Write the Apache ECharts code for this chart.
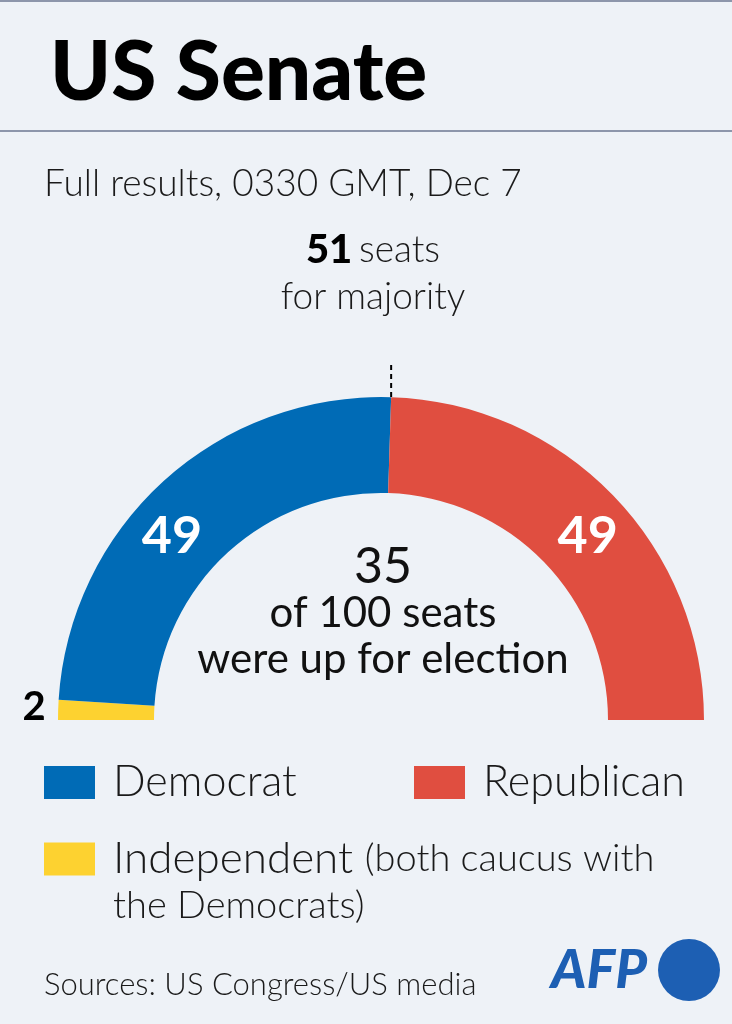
<!DOCTYPE html>
<html>
<head>
<meta charset="utf-8">
<script src="https://cdn.jsdelivr.net/npm/echarts@6/dist/echarts.min.js"></script>
<style>
html,body{margin:0;padding:0;background:#eef2f7;}
#main{width:732px;height:1024px;}
</style>
</head>
<body>
<div id="main"></div>
<script>
// 数据
var parties=['Independent','Democrat','Republican'];
var seats=[2,49,49];
var partyColors=['#fdd230','#006bb6','#e04e40'];
var totalSeats=100;
var majority=51;
var upForElection=35;

var FONT='Lato';
var cx=381,cy=720,rIn=227,rOut=323;//半圆位置

var pieData=[];
for(var i=0;i<parties.length;i++){
	var item={name:parties[i],value:seats[i],itemStyle:{color:partyColors[i]}};
	if(seats[i]<5){
		//小块标签放在外侧,黑色
		item.label={color:'#000',fontSize:40};
	}
	pieData.push(item);
}
//下半圆透明占位
pieData.push({name:'_rest',value:totalSeats,itemStyle:{color:'none'},label:{show:false},emphasis:{disabled:true},tooltip:{show:false}});

//多数线的位置(51席)
var majAngle=Math.PI-Math.PI*majority/totalSeats;
var majX=cx+rOut*Math.cos(majAngle);

function legendCfg(name,left,top,fmt,rich){
	return {
		data:[name],left:left,top:top,padding:0,
		icon:'rect',itemWidth:51,itemHeight:33,
		selectedMode:false,
		formatter:fmt||null,
		textStyle:{fontFamily:FONT,fontWeight:300,fontSize:43,color:'#1a1a1a',lineHeight:42,padding:[0,0,0,13],rich:rich||{}}
	};
}

var myChart=echarts.init(document.getElementById('main'),null,{renderer:'canvas'});
myChart.setOption({
	backgroundColor:'#eef2f7',
	animation:false,
	legend:[
		legendCfg('Democrat',44,761),
		legendCfg('Republican',414,761),
		legendCfg('Independent',44,837,'{a|Independent} {p|(both caucus with}',{
			a:{fontFamily:FONT,fontWeight:300,fontSize:44,color:'#1a1a1a',lineHeight:42},
			p:{fontFamily:FONT,fontWeight:300,fontSize:38,color:'#1a1a1a',lineHeight:42}
		})
	],
	series:[{
		type:'pie',
		center:[cx,cy],
		radius:[rIn,rOut],
		startAngle:180,
		clockwise:true,
		silent:true,
		data:pieData,
		labelLine:{show:false},
		label:{
			show:true,
			position:'inside',
			formatter:'{c}',
			color:'#fff',
			fontFamily:FONT,
			fontWeight:'bold',
			fontSize:52
		},
		labelLayout:function(p){
			if(p.dataIndex==0)return {x:34,y:707,align:'center',verticalAlign:'middle'};
			if(p.dataIndex==1)return {dx:-22,dy:22};
			if(p.dataIndex==2)return {dx:7,dy:10};
		}
	}],
	graphic:[
		{type:'line',shape:{x1:0,y1:1,x2:732,y2:1},style:{stroke:'#8d96ab',lineWidth:2}},
		{type:'line',shape:{x1:0,y1:131,x2:732,y2:131},style:{stroke:'#8d96ab',lineWidth:2}},
		{type:'text',x:50,y:74,style:{text:'US Senate',fontFamily:FONT,fontWeight:900,fontSize:82,fill:'#000',verticalAlign:'middle'}},
		{type:'text',x:44,y:184,style:{text:'Full results, 0330 GMT, Dec 7',fontFamily:FONT,fontWeight:300,fontSize:37,fill:'#1a1a1a',verticalAlign:'middle'}},
		{type:'text',x:373,y:250,style:{rich:{b:{fontFamily:FONT,fontWeight:900,fontSize:40,fill:'#000'},n:{fontFamily:FONT,fontWeight:300,fontSize:37,fill:'#1a1a1a'}},text:'{b|'+majority+'}  {n|seats}',align:'center',verticalAlign:'middle'}},
		{type:'text',x:373,y:297,style:{text:'for majority',fontFamily:FONT,fontWeight:300,fontSize:37,fill:'#1a1a1a',align:'center',verticalAlign:'middle'}},
		{type:'line',shape:{x1:majX,y1:365,x2:majX,y2:cy-rOut},style:{stroke:'#000',lineWidth:2,lineDash:[5,4]}},
		{type:'text',x:cx+2,y:567,style:{text:String(upForElection),fontFamily:FONT,fontSize:50,fill:'#111',align:'center',verticalAlign:'middle'}},
		{type:'text',x:cx+2,y:613,style:{text:'of '+totalSeats+' seats',fontFamily:FONT,fontSize:42,fill:'#111',align:'center',verticalAlign:'middle'}},
		{type:'text',x:cx+2,y:659,style:{text:'were up for election',fontFamily:FONT,fontSize:42,fill:'#111',align:'center',verticalAlign:'middle'}},
		{type:'text',x:113,y:906,style:{text:'the Democrats)',fontFamily:FONT,fontWeight:300,fontSize:38,fill:'#1a1a1a',verticalAlign:'middle'}},
		{type:'text',x:44,y:985,style:{text:'Sources: US Congress/US media',fontFamily:FONT,fontWeight:300,fontSize:31,fill:'#1a1a1a',verticalAlign:'middle'}},
		{type:'text',x:551,y:971,style:{text:'AFP',fontFamily:FONT,fontWeight:900,fontStyle:'italic',fontSize:54,fill:'#1d5fb3',verticalAlign:'middle'}},
		{type:'circle',shape:{cx:689,cy:970,r:31},style:{fill:'#1d5fb3'}}
	]
});
</script>
</body>
</html>
